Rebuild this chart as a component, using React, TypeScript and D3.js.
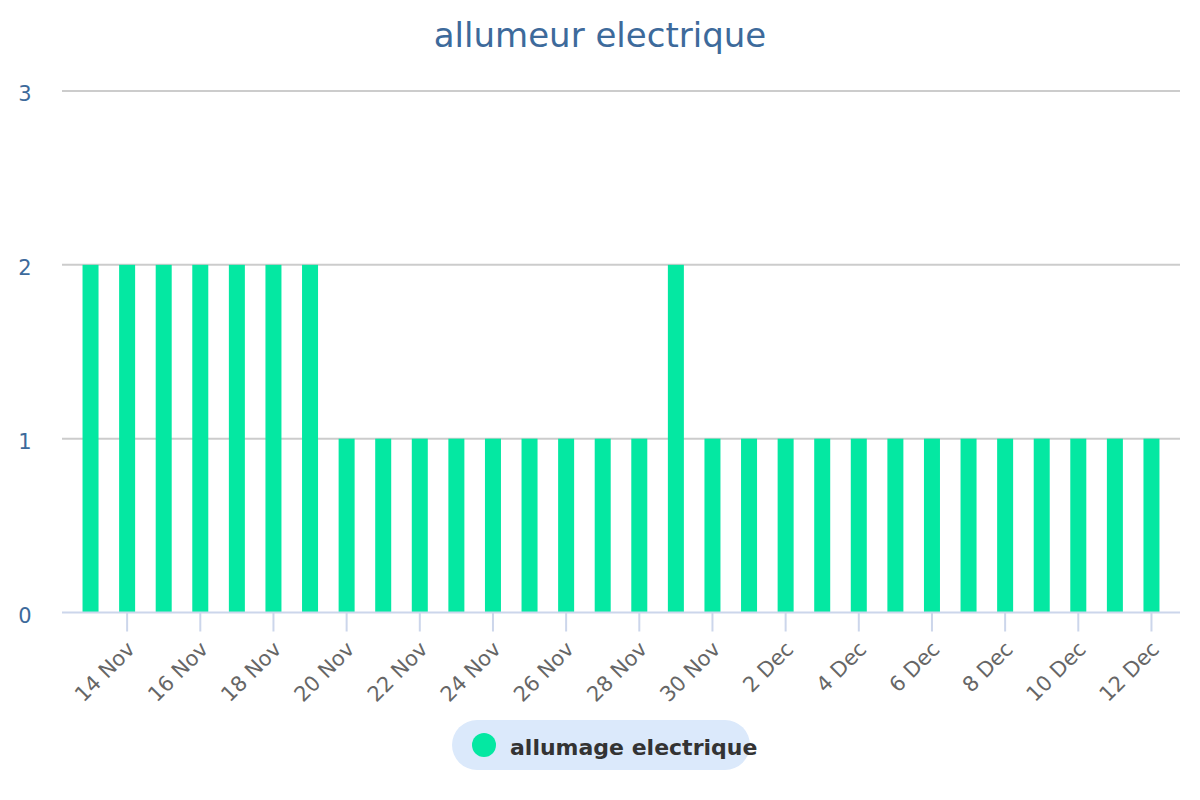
import React from "react";
import * as d3 from "d3";

const title = "allumeur electrique";
const seriesName = "allumage electrique";
const startDate = "2023-11-13";
const values = [2, 2, 2, 2, 2, 2, 2, 1, 1, 1, 1, 1, 1, 1, 1, 1, 2, 1, 1, 1, 1, 1, 1, 1, 1, 1, 1, 1, 1, 1];
const yTicks = [0, 1, 2, 3];

const DAY = 86400000;

export default function App() {
  const W = 1200, H = 800;
  const left = 62, right = 1180, top = 91, bottom = 612.5;
  const t0 = new Date(startDate + "T00:00:00Z").getTime();
  const data = values.map((v, i) => ({ date: new Date(t0 + i * DAY), value: v }));
  const pad = 0.78 * DAY;
  const x = d3.scaleUtc()
    .domain([new Date(t0 - pad), new Date(t0 + (values.length - 1) * DAY + pad)])
    .range([left, right]);
  const y = d3.scaleLinear().domain([0, 3]).range([bottom, top]);
  const ticks = data.filter((_, i) => i % 2 === 1).map(d => d.date);
  const fmt = d3.utcFormat("%-d %b");
  const barW = 16;
  const font = "'DejaVu Sans', sans-serif";

  return (
    <svg width={W} height={H} style={{ display: "block", position: "absolute", left: 0, top: 0 }} fontFamily={font}>
      <rect width={W} height={H} fill="#ffffff" />
      <text x={600} y={47} textAnchor="middle" fontSize={34} fill="#3d6a9b">{title}</text>
      {yTicks.map(t => (
        <g key={t}>
          {t > 0 && <line x1={left} x2={right} y1={y(t)} y2={y(t)} stroke="#cccccc" strokeWidth={2} />}
          <text x={25} y={y(t) + 10} textAnchor="middle" fontSize={21} fill="#3d6a9b">{t}</text>
        </g>
      ))}
      {data.map((d, i) => (
        <rect key={i} x={x(d.date) - barW / 2} y={y(d.value)} width={barW} height={y(0) - y(d.value)} fill="#04e8a2" />
      ))}
      <line x1={left} x2={right} y1={bottom} y2={bottom} stroke="#ccd6eb" strokeWidth={2} />
      {ticks.map((t, i) => (
        <g key={i}>
          <line x1={x(t)} x2={x(t)} y1={bottom} y2={bottom + 19} stroke="#ccd6eb" strokeWidth={2} />
          <text transform={`translate(${x(t) + 9},${bottom + 38}) rotate(-45)`} textAnchor="end" fontSize={21} fill="#666666">{fmt(t)}</text>
        </g>
      ))}
      <rect x={452} y={720} width={298} height={50} rx={25} fill="#dbe9fb" />
      <circle cx={484} cy={745} r={12} fill="#04e8a2" />
      <text x={510} y={755} fontSize={22} fontWeight="bold" fill="#333333">{seriesName}</text>
    </svg>
  );
}
